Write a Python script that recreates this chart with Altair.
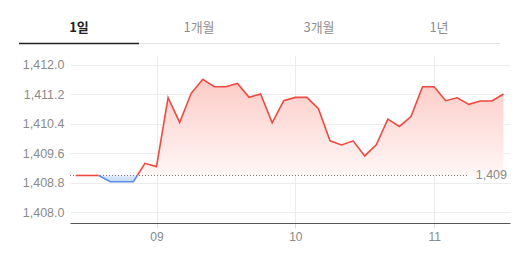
import altair as alt
import pandas as pd

# ---- data ----
times = ["08:25", "08:30", "08:35", "08:40", "08:45", "08:50", "08:55", "09:00",
         "09:05", "09:10", "09:15", "09:20", "09:25", "09:30", "09:35", "09:40",
         "09:45", "09:50", "09:55", "10:00", "10:05", "10:10", "10:15", "10:20",
         "10:25", "10:30", "10:35", "10:40", "10:45", "10:50", "10:55", "11:00",
         "11:05", "11:10", "11:15", "11:20", "11:25", "11:30"]
values = [1409.00, 1409.00, 1409.00, 1408.83, 1408.83, 1408.83, 1409.33, 1409.24,
          1411.11, 1410.44, 1411.23, 1411.61, 1411.41, 1411.41, 1411.50, 1411.12,
          1411.21, 1410.43, 1411.03, 1411.12, 1411.12, 1410.81, 1409.94, 1409.83,
          1409.94, 1409.53, 1409.83, 1410.53, 1410.33, 1410.60, 1411.41, 1411.41,
          1411.03, 1411.11, 1410.93, 1411.02, 1411.02, 1411.21]
baseline = 1409.0
baseline_label = "1,409"
tabs = ["1일", "1개월", "3개월", "1년"]
y_ticks = [1408.0, 1408.8, 1409.6, 1410.4, 1411.2, 1412.0]
x_ticks = ["09:00", "10:00", "11:00"]

def to_min(s):
    h, m = s.split(":")
    return int(h) * 60 + int(m)

mins = [to_min(t) for t in times]

# split line into segments above / below the previous close
rows = []
seg = 0
prev = None
for t, v in zip(mins, values):
    side = "up" if v >= baseline else "down"
    if prev is not None and side != prev[2]:
        t0, v0 = prev[0], prev[1]
        tc = t0 + (baseline - v0) / (v - v0) * (t - t0)
        rows.append(dict(t=tc, v=baseline, seg=seg, side=prev[2]))
        seg += 1
        rows.append(dict(t=tc, v=baseline, seg=seg, side=side))
    rows.append(dict(t=t, v=v, seg=seg, side=side))
    prev = (t, v, side)

df = pd.DataFrame(rows)
df["up"] = df["v"].clip(lower=baseline)
df["down"] = df["v"].clip(upper=baseline)
df["base"] = baseline

RED = "#ee4a40"
BLUE = "#5b8de4"

x_dom = [502.6, 692.8]
y_dom = [1407.71, 1412.27]

x_axis = alt.Axis(values=[to_min(s) for s in x_ticks],
                  labelExpr="(datum.value/60 < 10 ? '0' : '') + (datum.value/60)",
                  grid=True, gridColor="#ececec", domainColor="#555555",
                  domainWidth=1.2, tickColor="#dddddd", tickSize=5,
                  labelColor="#8a8a8a", labelFontSize=12, labelPadding=3,
                  labelFont="Liberation Sans", title=None)
x_scale = alt.Scale(domain=x_dom, nice=False, zero=False)
y_scale = alt.Scale(domain=y_dom, nice=False, zero=False)
y_axis = alt.Axis(values=y_ticks, format=",.1f", grid=True, gridColor="#ececec",
                  domain=False, ticks=False, labelColor="#8a8a8a", labelFontSize=12.5,
                  labelPadding=6, labelOverlap=False, labelFont="Liberation Sans",
                  title=None)

red_grad = alt.Gradient(gradient="linear", x1=0, y1=0, x2=0, y2=1,
                        stops=[alt.GradientStop(color="#fccbc6", offset=0),
                               alt.GradientStop(color="#fff7f6", offset=1)])
blue_grad = alt.Gradient(gradient="linear", x1=0, y1=0, x2=0, y2=1,
                         stops=[alt.GradientStop(color="#e2ecfc", offset=0),
                                alt.GradientStop(color="#c2d7f7", offset=1)])

base = alt.Chart(df)

area_up = base.mark_area(color=red_grad).encode(
    x=alt.X("t:Q", scale=x_scale, axis=x_axis),
    y=alt.Y("up:Q", scale=y_scale, axis=y_axis), y2="base:Q")
area_down = base.mark_area(color=blue_grad).encode(
    x=alt.X("t:Q", scale=x_scale, axis=x_axis),
    y=alt.Y("down:Q", scale=y_scale, axis=y_axis), y2="base:Q")

line = base.mark_line(strokeWidth=1.6).encode(
    x=alt.X("t:Q", scale=x_scale, axis=x_axis),
    y=alt.Y("v:Q", scale=y_scale, axis=y_axis),
    detail="seg:N",
    color=alt.Color("side:N", scale=alt.Scale(domain=["up", "down"], range=[RED, BLUE]),
                    legend=None))

rule_df = pd.DataFrame({"b": [baseline], "lbl": [baseline_label]})
rule = alt.Chart(rule_df).mark_rule(color="#777777", strokeDash=[1, 2], strokeWidth=1).encode(
    y=alt.Y("b:Q", scale=y_scale, axis=y_axis), x=alt.value(0), x2=alt.value(397))
rule_lbl = alt.Chart(rule_df).mark_text(align="right", baseline="middle", fontSize=12.5,
                                        color="#8a8a8a", font="Liberation Sans").encode(
    y=alt.Y("b:Q", scale=y_scale, axis=y_axis), x=alt.value(437), text="lbl:N")

# tab header
tab_layers = []
for i, name in enumerate(tabs):
    sel = i == 0
    tab_layers.append(
        alt.Chart(pd.DataFrame({"n": [name]})).mark_text(
            align="center", baseline="middle", fontSize=13,
            font="Noto Sans CJK KR", fontWeight="bold" if sel else "normal",
            color="#222222" if sel else "#8f8f8f").encode(
            x=alt.value(-51 + 120 * i + 60), y=alt.value(-27), text="n:N"))
tab_line_bg = alt.Chart(pd.DataFrame({"a": [0]})).mark_rule(color="#e3e3e3", strokeWidth=1).encode(
    x=alt.value(69), x2=alt.value(430), y=alt.value(-11.5))
tab_line_sel = alt.Chart(pd.DataFrame({"a": [0]})).mark_rule(color="#222222", strokeWidth=1.5).encode(
    x=alt.value(-51), x2=alt.value(69), y=alt.value(-11.5))

chart = alt.layer(area_up, area_down, rule, line, rule_lbl, tab_line_bg, tab_line_sel,
                  *tab_layers).properties(
    width=440, height=168,
    autosize=alt.AutoSizeParams(type="none"),
    padding={"left": 70, "top": 55, "right": 22, "bottom": 32},
    background="white",
).configure_view(strokeWidth=0).configure_axisY(labelOverlap=False)

chart.save("out.html", embed_options={"renderer": "svg", "actions": False})
